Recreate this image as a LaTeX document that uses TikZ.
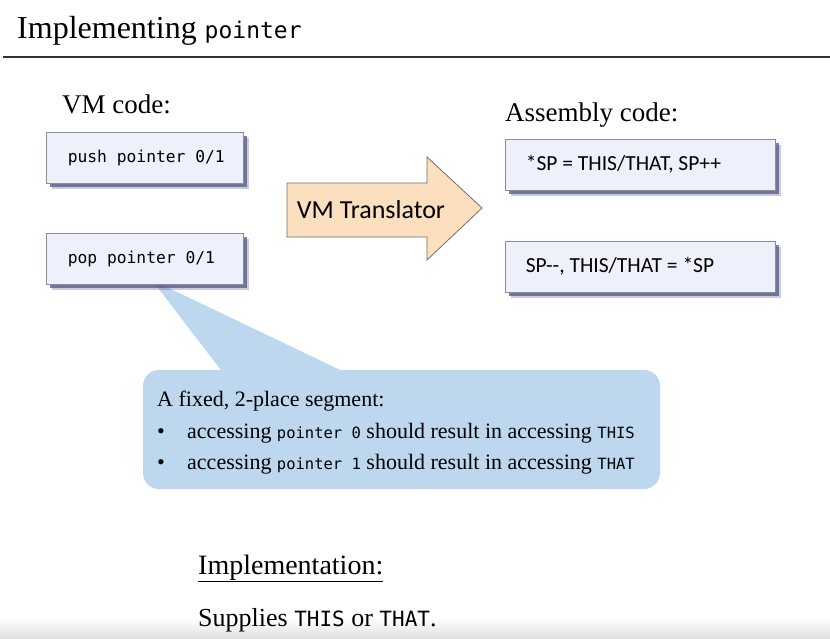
\documentclass[tikz,border=0pt]{standalone}
\usepackage{fontspec}
\setmainfont{Liberation Serif}
\newfontfamily\codefont{DejaVu Sans Mono}
\newfontfamily\calfont{Carlito}
\usetikzlibrary{positioning}
\usetikzlibrary{shadows}
\definecolor{boxfill}{RGB}{238,240,251}
\definecolor{boxline}{RGB}{140,140,156}
\definecolor{boxshadow}{RGB}{80,86,135}
\definecolor{arrowfill}{RGB}{252,223,190}
\definecolor{arrowline}{RGB}{120,108,96}
\definecolor{notefill}{RGB}{189,215,238}
\definecolor{ruleline}{RGB}{50,50,50}
\tikzset{%
  codebox/.style={draw=boxline, fill=boxfill, line width=0.8pt, minimum width=197pt,
    minimum height=51pt, inner sep=0pt,
    drop shadow={shadow xshift=6pt, shadow yshift=-6pt, fill=boxshadow, opacity=0.3},
    drop shadow={shadow xshift=4pt, shadow yshift=-4pt, fill=boxshadow, opacity=0.75}},
  asmbox/.style={codebox, minimum width=270pt},
  codetext/.style={inner sep=0pt, font=\codefont\fontsize{16.3}{20}\selectfont},
  asmtext/.style={inner sep=0pt, font=\calfont\fontsize{21.5}{24}\selectfont},
  heading/.style={anchor=base west, inner sep=0pt, font=\fontsize{27}{30}\selectfont},
  notetext/.style={anchor=base west, inner sep=0pt, font=\fontsize{22}{24}\selectfont}
}
\newcommand{\cw}[1]{{\codefont\fontsize{15.5}{18}\selectfont #1}}

\begin{document}
\begin{tikzpicture}[x=1pt, y=-1pt]
  \useasboundingbox (0,0) rectangle (830,638);
  \shade[top color=white, bottom color=black!12] (0,618) rectangle (830,638);

  % title
  \node[heading, font=\fontsize{32}{36}\selectfont] (title) at (17,38)
    {Implementing {\codefont\fontsize{23}{26}\selectfont pointer}};
  \draw[line width=2pt, ruleline] (3,57) -- (830,57);

  % VM side
  \node[heading] (vmlabel) at (62,113) {VM code:};
  \coordinate (tip) at (152,280);
  \fill[notefill] (tip) -- (227,378) -- (357,378) -- cycle;
  \node[codebox] (pushbox) at (144.5,157.5) {};
  \node[codebox] (popbox) at (144.5,258.5) {};
  \node[codetext, right=22pt of pushbox.west] (push) {push pointer 0/1};
  \node[codetext, right=22pt of popbox.west] (pop) {pop pointer 0/1};

  % translator
  \draw[arrowline, fill=arrowfill, line width=0.8pt]
    (287,183) -- (427,183) -- (427,157) -- (482,208) -- (427,260) -- (427,237) -- (287,237) -- cycle;
  \node[font=\calfont\fontsize{26}{30}\selectfont, inner sep=0pt] (vmt) at (371,210) {VM Translator};

  % assembly side
  \node[heading] (asmlabel) at (505,121) {Assembly code:};
  \node[asmbox] (asm1) at (640,164.5) {};
  \node[asmbox] (asm2) at (640,266.5) {};
  \node[asmtext, right=21pt of asm1.west] (pushasm) {*SP = THIS/THAT, SP++};
  \node[asmtext, right=21pt of asm2.west] (popasm) {SP-{}-, THIS/THAT = *SP};

  % callout
  \node[fill=notefill, rounded corners=16pt, minimum width=517pt, minimum height=119pt]
    (note) at (401.5,429.5) {};
  \node[notetext] (line1) at (157,406) {A fixed, 2-place segment:};
  \node[notetext] (b1) at (157,438) {\textbullet};
  \node[notetext] (line2) at (187,438) {accessing \cw{pointer 0} should result in accessing \cw{THIS}};
  \node[notetext] (b2) at (157,469) {\textbullet};
  \node[notetext] (line3) at (187,469) {accessing \cw{pointer 1} should result in accessing \cw{THAT}};

  % bottom
  \node[heading, font=\fontsize{28}{30}\selectfont] (impl) at (198,574) {\underline{Implementation:}};
  \node[heading, font=\fontsize{26}{30}\selectfont] (supp) at (198,626)
    {Supplies {\codefont\fontsize{21}{24}\selectfont THIS} or {\codefont\fontsize{21}{24}\selectfont THAT}.};
\end{tikzpicture}
\end{document}
